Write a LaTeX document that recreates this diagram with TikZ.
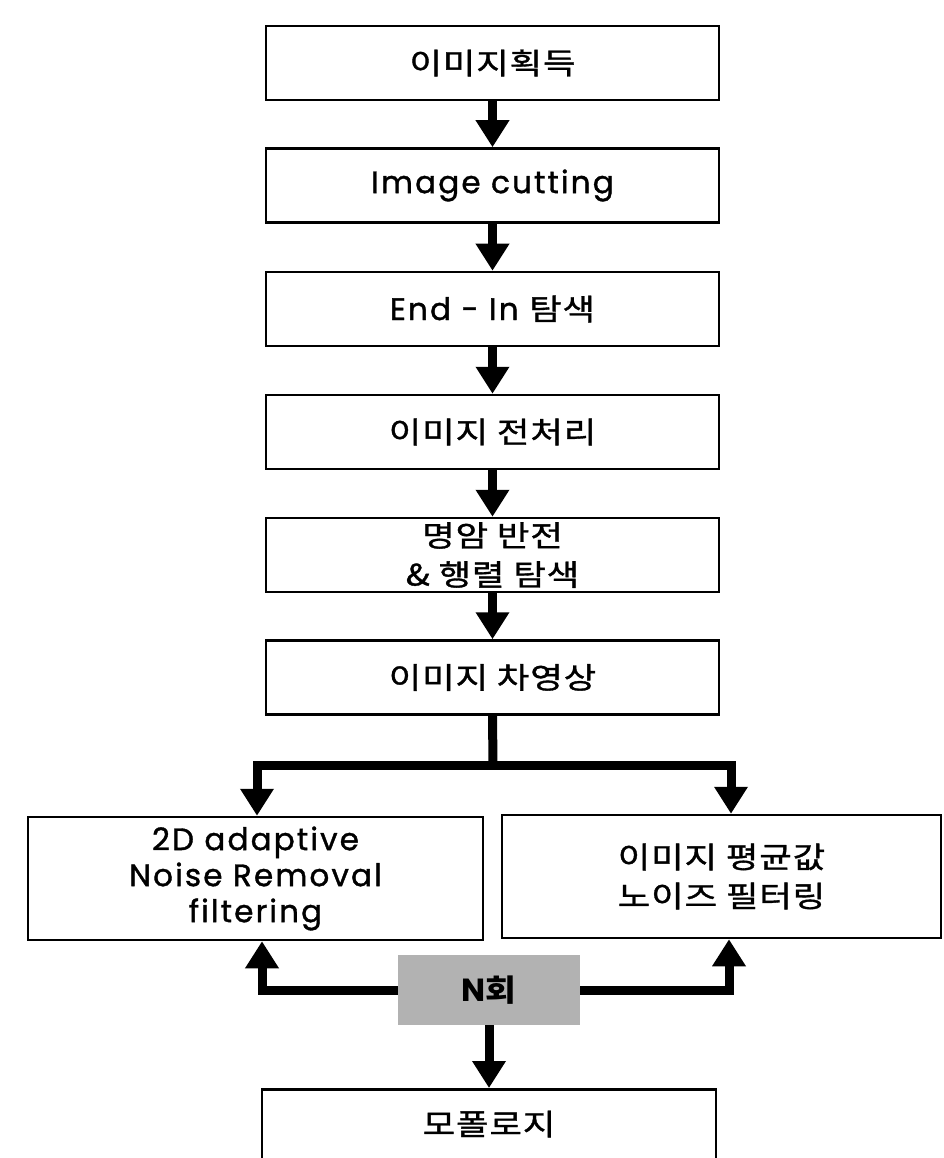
\documentclass[tikz,border=0pt]{standalone}
\usepackage{fontspec}
\setmainfont{Poppins}[FakeBold=1.2, LetterSpace=7]
\newfontfamily\kr{Noto Sans CJK KR}[FakeStretch=1.2, FakeBold=1.2, LetterSpace=3, Scale=0.95]
\newfontfamily\krb{Noto Sans CJK KR}[FakeStretch=1.1, Scale=0.95]
\newfontfamily\latb{Poppins}
\usetikzlibrary{arrows.meta}
\begin{document}
\begin{tikzpicture}[x=1pt,y=-1pt,
  box/.style={draw, line width=2.5pt, fill=white, minimum width=453pt, minimum height=74pt,
    inner sep=0pt, align=center, font=\fontsize{31}{39}\selectfont},
  flow/.style={line width=9pt, -{Triangle[width=32pt,length=27pt]}},
  both/.style={line width=9pt, {Triangle[width=32pt,length=27pt]}-{Triangle[width=32pt,length=27pt]}, line join=miter},
  count/.style={fill=black!30, minimum width=182pt, minimum height=70pt, inner sep=0pt,
    font=\fontsize{32}{32}\selectfont}]
\useasboundingbox (0,0) rectangle (943,1158);
\clip (0,0) rectangle (943,1158);
\fill[white] (0,0) rectangle (943,1158);
\node[box] (b1) at (492.5,63) {\kr 이미지획득};
\node[box] (b2) at (492.5,185.5) {Image cutting};
\node[box] (b3) at (492.5,309) {End - In {\kr 탐색}};
\node[box] (b4) at (492.5,432) {\kr 이미지 전처리};
\node[box] (b5) at (492.5,555) {\kr 명암 반전\\\kr \& 행렬 탐색};
\node[box] (b6) at (492.5,677.5) {\kr 이미지 차영상};
\node[box, minimum width=455pt, minimum height=123pt] (L) at (255.5,878.5)
  {2D adaptive\\[-3pt]Noise Removal\\[-3pt]filtering};
\node[box, minimum width=439pt, minimum height=123pt] (R) at (721.5,876.5)
  {\kr 이미지 평균값\\\kr 노이즈 필터링};
\node[box, minimum width=454pt, minimum height=160pt, anchor=north] (M) at (489,1088) {};
\node[font=\fontsize{31}{39}\selectfont\kr] (mt) at (489,1124) {모폴로지};
\node[count] (n) at (489,990) {\bfseries{\latb N}{\krb 회}};
\draw[flow] (b1.south) -- (b2.north);
\draw[flow] (b2.south) -- (b3.north);
\draw[flow] (b3.south) -- (b4.north);
\draw[flow] (b4.south) -- (b5.north);
\draw[flow] (b5.south) -- (b6.north);
\coordinate (j) at (493,765);
\coordinate (lt) at ([xshift=1.5pt]L.north);
\coordinate (rt) at ([xshift=9.5pt]R.north);
\coordinate (lb) at ([xshift=6.5pt]L.south);
\coordinate (rb) at ([xshift=7.5pt]R.south);
\draw[line width=9pt] (b6.south) -- (j);
\draw[both] (lt) -- (j -| lt) -- (j -| rt) -- (rt);
\draw[flow, line join=miter] (n.west) -| (lb);
\draw[flow, line join=miter] (n.east) -| (rb);
\draw[flow] (n.south) -- (M.north);
\end{tikzpicture}
\end{document}
